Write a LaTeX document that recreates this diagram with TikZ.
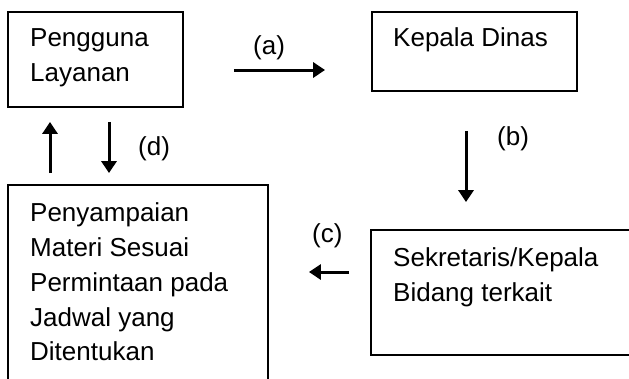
\documentclass[tikz,border=0pt]{standalone}
\usepackage{fontspec}
\setmainfont{Liberation Sans}
\usetikzlibrary{arrows.meta}
\begin{document}
\begin{tikzpicture}[x=1pt,y=-1pt,
  box/.style={draw=black,line width=1.8pt,minimum width=#1,inner sep=0pt},
  txt/.style={anchor=base west,align=left,inner sep=0pt,font=\fontsize{26}{34.5}\selectfont},
  lbl/.style={anchor=base west,inner sep=0pt,font=\fontsize{26}{34.5}\selectfont},
  arr/.style={line width=3pt,-{Triangle[length=12pt,width=15pt]}}]
\useasboundingbox (0,0) rectangle (629,378);
\clip (0,0) rectangle (629,378);
\fill[white] (0,0) rectangle (629,378);
% boxes
\node[box=175pt,minimum height=95pt] (pengguna) at (95.5,59.5) {};
\node[box=205pt,minimum height=79pt] (kadis) at (474.5,51.5) {};
\node[box=290pt,minimum height=125pt] (sekre) at (516,292.5) {};
\node[box=260pt,minimum height=215pt] (penyamp) at (138,292.5) {};
% texts (base anchor = baseline of last line)
\node[txt] (t1) at (30,81.2) {Pengguna\\Layanan};
\node[txt] (t2) at (393,46.7) {Kepala Dinas};
\node[txt,font=\fontsize{26}{35}\selectfont] (t3) at (393,301) {Sekretaris/Kepala\\Bidang terkait};
\node[txt,font=\fontsize{26}{34.8}\selectfont] (t4) at (30,360.9) {Penyampaian\\Materi Sesuai\\Permintaan pada\\Jadwal yang\\Ditentukan};
% labels
\node[lbl] (la) at (253,54) {(a)};
\node[lbl] (lb) at (497,145) {(b)};
\node[lbl] (lc) at (312,242) {(c)};
\node[lbl] (ld) at (138,155) {(d)};
% arrows
\draw[arr,shorten <=50pt,shorten >=46pt] (pengguna.east |- 0,70) -- (kadis.west |- 0,70);
\draw[arr,shorten <=39pt,shorten >=27pt] (kadis.south -| 466,0) -- (sekre.north -| 466,0);
\draw[arr,shorten <=21pt,shorten >=40pt] (sekre.west |- 0,272) -- (penyamp.east |- 0,272);
\draw[arr,shorten <=11pt,shorten >=14pt] (penyamp.north -| 50,0) -- (pengguna.south -| 50,0);
\draw[arr,shorten <=14pt,shorten >=11pt] (pengguna.south -| 109,0) -- (penyamp.north -| 109,0);
\end{tikzpicture}
\end{document}
